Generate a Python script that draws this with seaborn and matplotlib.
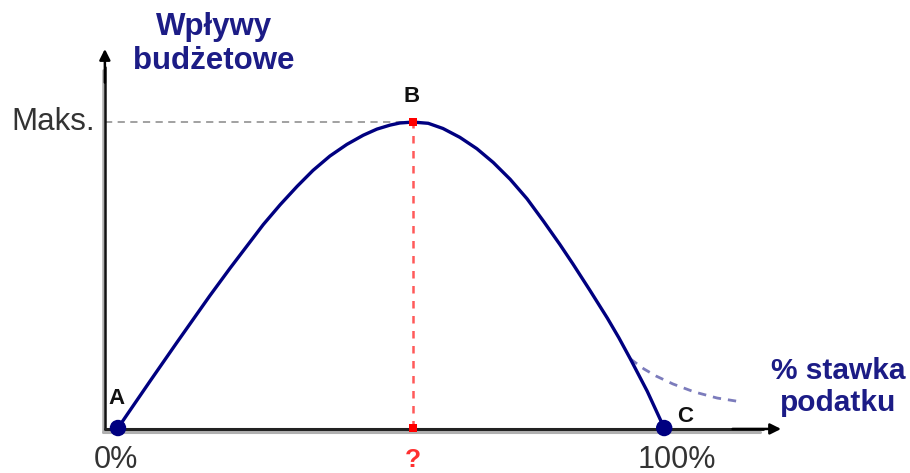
import matplotlib
matplotlib.use("Agg")
import matplotlib.pyplot as plt
import matplotlib.patheffects as pe
import pandas as pd
import seaborn as sns

# krzywa Laffera - wartosci (stawka %, wplywy w % maksimum)
tax_rate = [0, 1.6, 5.9, 10.8, 16.8, 20.5, 26.6, 29.7, 32.8, 35.7, 38.8,
            41.9, 44.9, 47.4, 49.8, 51.6, 54.0, 56.8, 59.5, 62.6, 65.7,
            68.7, 71.8, 74.9, 77.9, 80.9, 83.3, 86.4, 89.6, 91.7, 93.8, 96.9, 100]
revenue = [0, 4.2, 15.4, 28.0, 43.2, 52.2, 66.5, 73.0, 79.0, 84.2, 88.9,
           92.7, 95.7, 97.7, 99.0, 99.7, 100, 99.6, 97.9, 95.0, 91.3,
           86.8, 81.3, 74.9, 67.6, 60.0, 53.6, 45.0, 35.9, 29.5, 22.6, 12.0, 0]

# alternatywna galaz (przerywana)
branch_rate = [93.8, 96.3, 98.5, 101.6, 105.5, 109.7, 113.2]
branch_revenue = [22.6, 19.3, 17.0, 14.4, 11.8, 9.8, 8.8]

peak_rate = 54.0
max_revenue = 100
point_labels = ["A", "B", "C"]
tick_labels = ["0%", "?", "100%"]

NAVY = "#000080"
TEXT_NAVY = "#1c1c86"
RED = "#ff3030"

sns.set_theme(style="white")
plt.rcParams["font.family"] = ["Liberation Sans", "DejaVu Sans"]

fig = plt.figure(figsize=(9.1, 4.73), dpi=100)
ax = fig.add_axes([0, 0, 1, 1])
ax.set_xlim(-21.6, 145.0)
ax.set_ylim(-14.7, 139.9)
ax.axis("off")

curve = pd.DataFrame({"stawka": tax_rate, "wplywy": revenue})
branch = pd.DataFrame({"stawka": branch_rate, "wplywy": branch_revenue})

# osie ze strzalkami i cieniem
shadow = [pe.SimpleLineShadow(offset=(-1.5, -2), shadow_color="#b0b0b0", alpha=1), pe.Normal()]
ax.plot([-2.4, -2.4], [-0.3, 118], color="#111111", lw=1.8, path_effects=shadow, zorder=2)
ax.plot([-2.4, 118], [-0.3, -0.3], color="#222222", lw=2.2, path_effects=shadow, zorder=2)
arrow = dict(arrowstyle="-|>", color="black", lw=1.8, mutation_scale=16)
ax.annotate("", xy=(-2.4, 124.8), xytext=(-2.4, 112), arrowprops=arrow)
ax.annotate("", xy=(121.9, -0.3), xytext=(112, -0.3), arrowprops=arrow)

# linie pomocnicze do maksimum
ax.plot([-2.4, peak_rate], [max_revenue, max_revenue], color="#9a9a9a", lw=1.3,
        ls=(0, (4, 3)), zorder=1)
ax.plot([peak_rate, peak_rate], [0, max_revenue], color=RED, lw=1.8,
        ls=(0, (3, 3)), alpha=0.8, zorder=1)

sns.lineplot(data=curve, x="stawka", y="wplywy", sort=False, color=NAVY,
             lw=2.4, ax=ax, zorder=3, solid_joinstyle="round")
sns.lineplot(data=branch, x="stawka", y="wplywy", sort=False, color="#7c7cbc",
             lw=2.0, ax=ax, zorder=2, linestyle=(0, (3, 2.5)))

ends = pd.DataFrame({"stawka": [tax_rate[0], tax_rate[-1]], "wplywy": [revenue[0], revenue[-1]]})
sns.scatterplot(data=ends, x="stawka", y="wplywy", color=NAVY, s=140,
                edgecolor="none", ax=ax, zorder=4)
ax.scatter([peak_rate, peak_rate], [max_revenue, 0], color="#ff0000", s=40,
           marker="s", zorder=4, edgecolor="none")

ax.set_xlabel("")
ax.set_ylabel("")

# etykiety
ax.text(17.6, 125.5, "Wpływy\nbudżetowe", ha="center", va="center", fontsize=22.5,
        fontweight="bold", color=TEXT_NAVY, linespacing=1.15)
ax.text(131.8, 13.5, "% stawka\npodatku", ha="center", va="center", fontsize=21.5,
        fontweight="bold", color=TEXT_NAVY, linespacing=1.2)
ax.text(-4.2, max_revenue, "Maks.", ha="right", va="center", fontsize=22.5, color="#333333")

ax.text(-0.3, 9.5, point_labels[0], ha="center", va="center", fontsize=16,
        fontweight="bold", color="#111111")
ax.text(peak_rate - 0.3, 108.2, point_labels[1], ha="center", va="center", fontsize=16,
        fontweight="bold", color="#111111")
ax.text(103.8, 3.8, point_labels[2], ha="center", va="center", fontsize=16,
        fontweight="bold", color="#111111")

ax.text(-0.3, -10.3, tick_labels[0], ha="center", va="center", fontsize=22, color="#333333")
ax.text(peak_rate, -10.3, tick_labels[1], ha="center", va="center", fontsize=19,
        fontweight="bold", color=RED)
ax.text(102.3, -10.3, tick_labels[2], ha="center", va="center", fontsize=22, color="#333333")

fig.savefig("out.png", dpi=100)
